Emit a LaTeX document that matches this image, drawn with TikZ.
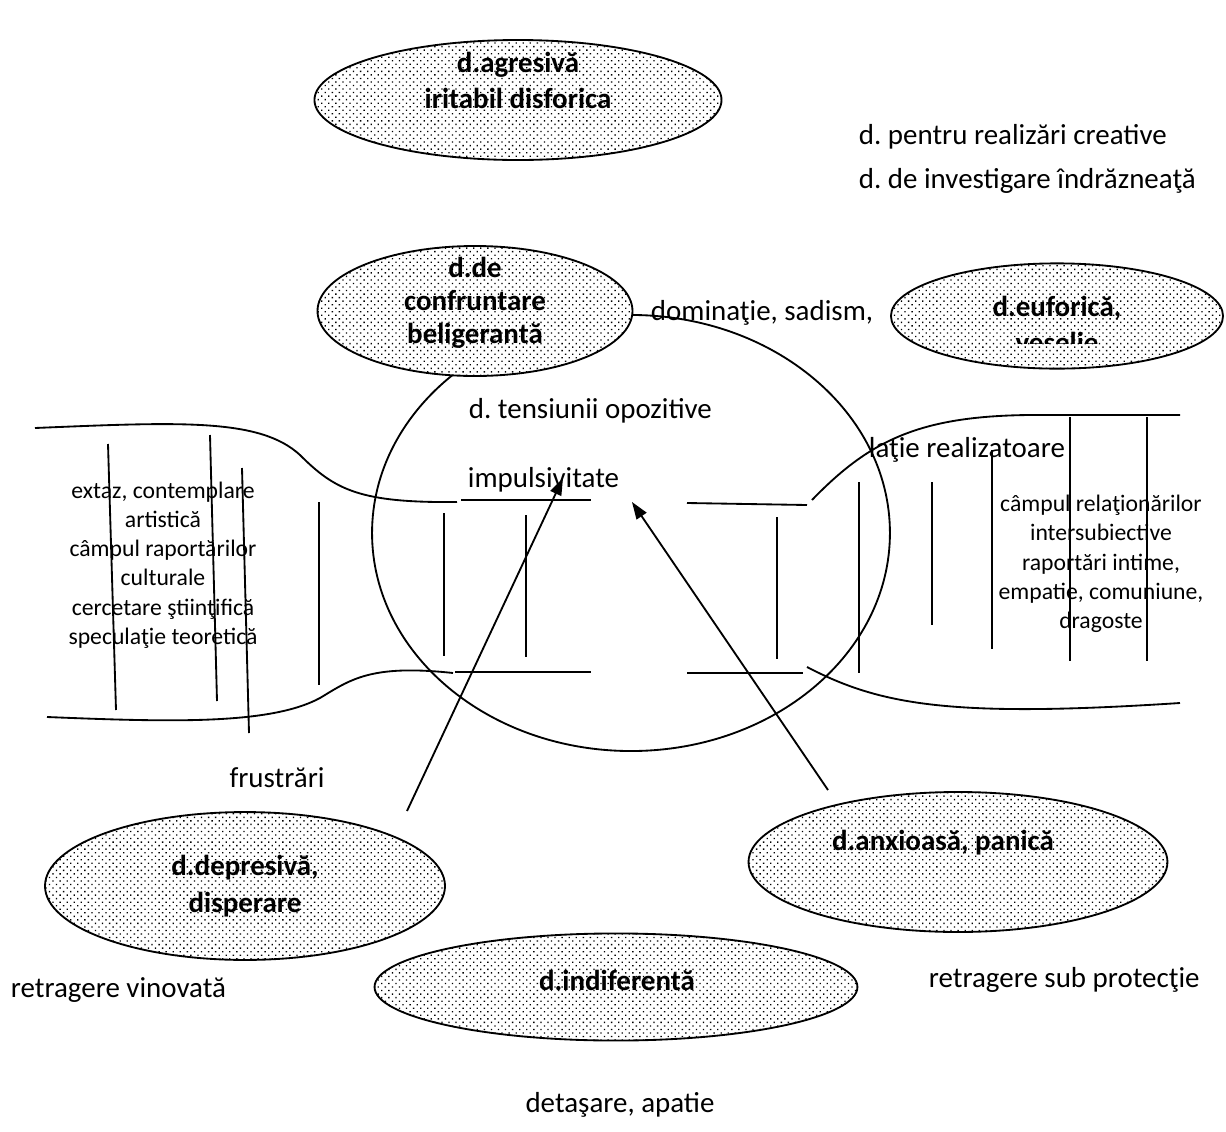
\documentclass[tikz,border=0pt]{standalone}
\usepackage{fontspec}
\setmainfont{Carlito}
\usetikzlibrary{arrows.meta,patterns.meta,shapes.geometric}
\frenchspacing

\begin{document}
\begin{tikzpicture}[
   x=0.38pt,y=-0.38pt,
   line width=0.7pt,
   emo/.style={draw,ellipse,inner sep=0pt,preaction={fill=white},
      pattern={Dots[distance=1.9pt,radius=0.36pt,angle=45]}},
   emotxt/.style={font=\bfseries\fontsize{11}{13.7}\selectfont,align=center,inner sep=0pt},
   lbl/.style={font=\fontsize{11}{13.4}\selectfont,inner sep=0pt},
   fld/.style={font=\fontsize{9}{11.1}\selectfont,align=center,inner sep=0pt},
   to/.style={-{Triangle[length=6.5pt,width=4.5pt]},line width=0.7pt}]
\useasboundingbox (0,0) rectangle (1226,1132);
% central field
\node[draw,ellipse,minimum width=196.8pt,minimum height=165.7pt] (field) at (631,533) {};
% left band
\draw (35,428) .. controls (180,422) and (260,418) .. (300,455) .. controls (335,490) and (360,503) .. (457,502);
\draw (461,500) -- (591,500);
\draw (47,717) .. controls (170,722) and (270,725) .. (320,698) .. controls (350,680) and (370,664) .. (453,673);
\draw (455,672) -- (591,672);
% right band
\draw (687,503) -- (807,505);
\draw (687,673) -- (803,673);
\draw (812,500) .. controls (870,440) and (920,416) .. (1030,415) -- (1180,415);
\draw (807,667) .. controls (880,705) and (950,718) .. (1180,703);
% strokes across the bands
\draw (108,444) -- (116,710);
\draw (210,435) -- (217,701);
\draw (242,468) -- (249,733);
\draw (319,502) -- (319,685);
\draw (444,513) -- (444,656);
\draw (526,515) -- (526,657);
\draw (777,517) -- (777,659);
\draw (859,482) -- (859,673);
\draw (932,482) -- (932,625);
\draw (992,450) -- (992,649);
\draw (1070,417) -- (1070,661);
\draw (1147,417) -- (1147,661);
% dispositions
\node[emo,minimum width=154.7pt,minimum height=45.6pt] (agr) at (518,100) {};
\node[emo,minimum width=119.7pt,minimum height=49.4pt] (conf) at (475,311) {};
\node[emo,minimum width=126.2pt,minimum height=40pt] (euf) at (1057,316) {};
\node[emo,minimum width=152pt,minimum height=56.2pt] (dep) at (245,886) {};
\node[emo,minimum width=159.2pt,minimum height=53.2pt] (anx) at (958,862) {};
\node[emo,minimum width=183.5pt,minimum height=40.7pt] (ind) at (616,987) {};
\node[emotxt] (agrtxt) at (518,80) {d.agresivă\\iritabil disforica};
\node[emotxt,font=\bfseries\fontsize{11}{12.5}\selectfont] (conftxt) at (475,303) {d.de\\confruntare\\beligerantă};
\begin{scope}
\clip (880,250) rectangle (1226,343);
\node[emotxt] (euftxt) at (1057,324) {d.euforică,\\veselie};
\end{scope}
\node[emotxt,font=\bfseries\fontsize{11}{14}\selectfont] (deptxt) at (245,886) {d.depresivă,\\disperare};
\node[emotxt] (anxtxt) at (943,843) {d.anxioasă, panică};
\node[emotxt] (indtxt) at (617,980) {d.indiferentă};
% labels
\node[lbl,anchor=west] (creat) at (858,137) {d. pentru realizări creative};
\node[lbl,anchor=west] (invest) at (858,181) {d. de investigare îndrăzneaţă};
\node[lbl,anchor=west] (domin) at (650,313) {dominaţie, sadism,};
\node[lbl,anchor=west] (tens) at (468,411) {d. tensiunii opozitive};
\node[lbl,anchor=west] (imp) at (467,480) {impulsivitate};
\node[lbl,anchor=west] (real) at (868,450) {laţie realizatoare};
\node[lbl] (frus) at (277,778) {frustrări};
\node[lbl,anchor=west] (vinov) at (10,990) {retragere vinovată};
\node[lbl,anchor=west] (protec) at (928,980) {retragere sub protecţie};
\node[lbl] (apat) at (620,1105) {detaşare, apatie};
\node[fld] (cult) at (163,565) {extaz, contemplare\\artistică\\câmpul raportărilor\\culturale\\cercetare ştiinţifică\\speculaţie teoretică};
\node[fld] (rel) at (1101,564) {câmpul relaţionărilor\\intersubiective\\raportări intime,\\empatie, comuniune,\\dragoste};
% arrows
\coordinate (depout) at (407,811);
\coordinate (anxout) at (828,790);
\coordinate (impin) at (563,478);
\coordinate (impmid) at (632,502);
\draw[to] (depout) -- (impin);
\draw[to] (anxout) -- (impmid);
\end{tikzpicture}
\end{document}
